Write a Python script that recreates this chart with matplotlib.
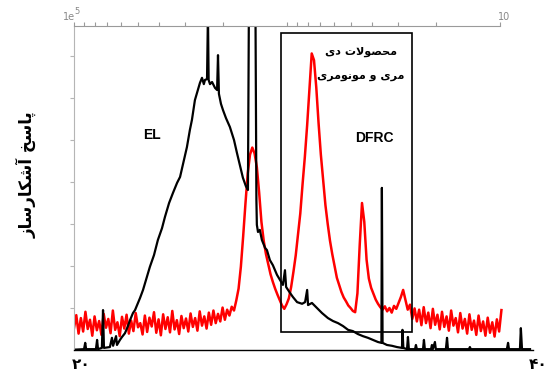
"""Chromatogram: EL vs DFRC products (detector response vs time)."""
import numpy as np
import matplotlib.pyplot as plt
from matplotlib.patches import Rectangle

# ---- data (time in min, response in arbitrary units) ----
# DFRC trace, sampled every 0.1 min from 19.7 min
red_t0, red_dt = 19.7, 0.1
red_y = [
    5.2, 8.3, 3.9, 7.6, 4.4, 9.1, 5.0, 7.2, 3.4, 8.0,
    4.7, 6.9, 3.6, 8.6, 5.3, 7.4, 4.0, 9.4, 4.8, 6.6,
    3.3, 7.9, 5.1, 8.4, 3.9, 7.0, 4.5, 8.8, 5.4, 6.4,
    3.7, 8.2, 4.3, 7.7, 5.6, 9.0, 4.1, 7.3, 3.5, 8.5,
    5.0, 7.8, 4.2, 9.3, 4.9, 7.1, 3.8, 8.1, 5.2, 7.5,
    4.4, 8.7, 5.5, 7.6, 4.6, 9.2, 5.8, 8.0, 5.1, 8.9,
    6.0, 9.4, 6.4, 8.6, 6.8, 10.1, 7.2, 9.6,
    # first peak
    8.2, 10.3, 9.4, 11.8, 14.6, 19.8, 27.0, 34.8, 42.0, 46.5,
    48.2, 46.8, 43.5, 37.5, 30.5, 26.0, 22.8, 20.4, 18.0, 16.2,
    14.6, 13.2, 11.9, 10.6,
    # dimer / monomer peak
    9.8, 10.9, 12.3, 15.0, 18.6, 22.5, 27.5, 32.5, 39.5, 46.0,
    53.5, 62.0, 70.6, 69.0, 62.5, 54.0, 46.5, 40.5, 34.5, 30.0,
    26.0, 22.8, 20.0, 17.2, 15.5, 13.8, 12.5, 11.6, 10.6, 10.0,
    9.3,
    # narrow peak
    9.0, 13.5, 25.0, 35.0, 30.5, 21.5, 17.0, 14.8, 13.4, 12.0,
    11.0, 10.2, 9.6,
    10.4, 9.2, 10.0, 8.9, 10.5, 9.8, 11.2, 12.6, 14.3, 12.0,
    9.6, 10.8, 7.4, 9.9, 6.8,
    # tail
    9.6, 5.9, 10.2, 6.4, 8.9, 5.2, 9.8, 6.0, 8.4, 4.9,
    9.1, 5.5, 8.0, 4.6, 9.4, 5.8, 7.6, 4.2, 8.8, 5.1,
    7.4, 3.9, 8.5, 4.8, 7.0, 3.6, 8.2, 4.5, 6.8, 3.4,
    7.7, 4.1, 6.6, 3.2, 7.3, 4.4, 9.5,
]

# EL trace, irregular points
black_t = [19.79, 20.14, 20.19, 20.23, 20.66, 20.71, 20.75, 20.92, 20.97, 21.01,
           21.27, 21.36, 21.41, 21.54, 21.58, 21.71, 21.80, 21.93, 22.06, 22.15,
           22.28, 22.37, 22.50, 22.59, 22.72, 22.85, 23.02, 23.20, 23.37, 23.55,
           23.68, 23.86, 24.03, 24.21, 24.34, 24.51, 24.64, 24.77, 24.86, 24.99,
           25.12, 25.21, 25.30, 25.38, 25.43, 25.52, 25.56, 25.59, 25.65, 25.74,
           25.87, 25.96, 26.00, 26.04, 26.13, 26.22, 26.35, 26.52, 26.70, 26.83,
           26.96, 27.09, 27.22, 27.31, 27.35, 27.40, 27.64, 27.68, 27.70, 27.75,
           27.83, 27.92, 28.06, 28.14, 28.27, 28.40, 28.58, 28.71, 28.84, 28.93,
           28.98, 29.15, 29.28, 29.46, 29.68, 29.81, 29.90, 29.94, 30.11, 30.33,
           30.55, 30.81, 31.03, 31.25, 31.47, 31.69, 31.90, 32.12, 32.34, 32.56,
           32.78, 33.00, 33.15, 33.17, 33.20, 33.39, 33.61, 33.83, 34.05, 34.07,
           34.11, 34.27, 34.31, 34.35, 34.62, 34.66, 34.70, 34.97, 35.01, 35.05,
           35.32, 35.36, 35.40, 35.49, 35.53, 35.97, 36.02, 36.06, 36.98, 37.02,
           37.06, 38.64, 38.69, 38.73, 39.21, 39.25, 39.30, 39.65]
black_y = [0.1, 0.2, 1.7, 0.2, 0.2, 2.4, 0.2, 0.5, 9.5, 0.5,
           0.7, 2.9, 1.0, 3.3, 1.2, 2.4, 3.1, 4.0, 5.7, 7.1,
           8.8, 9.5, 11.2, 12.4, 14.3, 16.7, 19.8, 22.6, 26.2, 29.0,
           31.7, 35.0, 37.4, 39.8, 41.2, 45.2, 48.3, 52.4, 54.8, 59.5,
           61.9, 63.6, 64.8, 63.3, 64.3, 64.5, 80.0, 64.3, 63.3, 63.8,
           62.4, 61.9, 70.2, 61.0, 58.6, 57.1, 55.2, 53.1, 50.0, 46.9,
           44.0, 41.0, 39.0, 38.1, 80.0, 80.0, 80.0, 35.7, 29.8, 28.1,
           28.6, 26.2, 24.3, 23.8, 21.4, 20.2, 17.9, 16.7, 15.5, 19.0,
           15.0, 13.6, 12.6, 11.4, 11.0, 11.4, 14.3, 10.7, 11.2, 10.0,
           8.8, 7.6, 6.9, 6.4, 5.7, 4.8, 4.5, 3.8, 3.3, 2.9,
           2.4, 1.9, 1.7, 38.6, 1.7, 1.2, 1.0, 0.7, 0.5, 4.8,
           0.5, 0.2, 3.1, 0.2, 0.2, 1.2, 0.2, 0.2, 2.4, 0.2,
           0.2, 1.2, 0.2, 1.9, 0.2, 0.2, 2.9, 0.2, 0.2, 0.7,
           0.2, 0.2, 1.7, 0.2, 0.2, 5.2, 0.2, 0.2]

# Persian labels
ylabel_fa = "پاسخ آشکارساز"
box_lines_fa = ["محصولات دی", "مری و مونومری"]
xtick_vals = [20, 40]
xtick_fa = ["۲۰", "۴۰"]


# ---- minimal Arabic-script shaping (matplotlib has no bidi/joining) ----
FORMS = {
    'ا': ('\uFE8D', '\uFE8E', None, None),
    'آ': ('\uFE81', '\uFE82', None, None),
    'پ': ('\uFB56', '\uFB57', '\uFB58', '\uFB59'),
    'ت': ('\uFE95', '\uFE96', '\uFE97', '\uFE98'),
    'ح': ('\uFEA1', '\uFEA2', '\uFEA3', '\uFEA4'),
    'خ': ('\uFEA5', '\uFEA6', '\uFEA7', '\uFEA8'),
    'د': ('\uFEA9', '\uFEAA', None, None),
    'ر': ('\uFEAD', '\uFEAE', None, None),
    'ز': ('\uFEAF', '\uFEB0', None, None),
    'س': ('\uFEB1', '\uFEB2', '\uFEB3', '\uFEB4'),
    'ش': ('\uFEB5', '\uFEB6', '\uFEB7', '\uFEB8'),
    'ص': ('\uFEB9', '\uFEBA', '\uFEBB', '\uFEBC'),
    'ک': ('\uFB8E', '\uFB8F', '\uFB90', '\uFB91'),
    'ل': ('\uFEDD', '\uFEDE', '\uFEDF', '\uFEE0'),
    'م': ('\uFEE1', '\uFEE2', '\uFEE3', '\uFEE4'),
    'ن': ('\uFEE5', '\uFEE6', '\uFEE7', '\uFEE8'),
    'و': ('\uFEED', '\uFEEE', None, None),
    'ی': ('\uFBFC', '\uFBFD', '\uFBFE', '\uFBFF'),
}
LAM_ALEF = {'ا': ('\uFEFB', '\uFEFC'), 'آ': ('\uFEF5', '\uFEF6')}


def shape(s):
    toks, i = [], 0
    while i < len(s):
        if s[i] == 'ل' and i + 1 < len(s) and s[i + 1] in LAM_ALEF:
            toks.append(('LA', s[i + 1])); i += 2
        else:
            toks.append((s[i], None)); i += 1
    dual = lambda t: t[0] in FORMS and FORMS[t[0]][2] is not None
    joins = lambda t: t[0] == 'LA' or t[0] in FORMS
    out = []
    for j, tok in enumerate(toks):
        prev_ok = j > 0 and dual(toks[j - 1]) and joins(tok)
        next_ok = j + 1 < len(toks) and dual(tok) and joins(toks[j + 1])
        if tok[0] == 'LA':
            out.append(LAM_ALEF[tok[1]][1 if prev_ok else 0])
        elif tok[0] in FORMS:
            iso, fin, ini, med = FORMS[tok[0]]
            out.append(med if prev_ok and next_ok else fin if prev_ok else ini if next_ok else iso)
        else:
            out.append(tok[0])
    return ''.join(reversed(out))


W, H = 552, 381
fig = plt.figure(figsize=(W / 100, H / 100), dpi=100)
fig.patch.set_facecolor('white')

def px(x, y):
    return x / W, 1 - y / H

# main axes: plot area 74..538 px wide, 26..350 px tall
ax = fig.add_axes([74 / W, 31 / H, 464 / W, 324 / H])
ax.set_xlim(19.7, 40.0)
ax.set_ylim(0, 77.14)

red_t = red_t0 + red_dt * np.arange(len(red_y))
ax.plot(red_t, red_y, color='#ff0000', lw=1.8, zorder=2)
ax.plot(black_t, black_y, color='black', lw=1.6, zorder=3)

ax.add_patch(Rectangle((28.755, 4.29), 5.73, 71.2, fill=False,
                       edgecolor='black', lw=1.2, zorder=4))

ax.spines['top'].set_visible(False)
ax.spines['right'].set_visible(False)
ax.spines['left'].set_color('#b5b5b5')
ax.spines['bottom'].set_bounds(19.7, 39.78)
ax.spines['bottom'].set_linewidth(1.0)
ax.set_yticks(np.arange(10, 71, 10))
ax.set_yticklabels([])
ax.tick_params(axis='y', length=3, color='#b5b5b5', width=0.8)
ax.set_xticks(xtick_vals)
ax.set_xticklabels(xtick_fa, fontsize=11, fontweight='bold', family='DejaVu Sans')
ax.tick_params(axis='x', length=0, pad=5)

ax.text(23.1, 51.2, "EL", fontsize=10, fontweight='bold', family='Liberation Sans',
        ha='center', va='center', zorder=5)
ax.text(32.82, 50.5, "DFRC", fontsize=10, fontweight='bold', family='Liberation Sans',
        ha='center', va='center', zorder=5)
ax.text(32.25, 71.0, shape(box_lines_fa[0]), fontsize=8, fontweight='bold',
        family='DejaVu Sans', ha='center', va='center', zorder=5)
ax.text(32.25, 65.3, shape(box_lines_fa[1]), fontsize=8, fontweight='bold',
        family='DejaVu Sans', ha='center', va='center', zorder=5)

# faint reversed log axis along the top
axt = fig.add_axes([74 / W, 31 / H, (500 - 74) / W, 324 / H])
axt.patch.set_visible(False)
axt.set_xscale('log')
axt.set_xlim(1000, 10)
for s in ['left', 'right', 'bottom']:
    axt.spines[s].set_visible(False)
axt.spines['top'].set_color('#9a9a9a')
axt.xaxis.set_ticks_position('top')
axt.tick_params(axis='x', which='both', direction='out', length=3, width=0.8,
                color='#9a9a9a', labeltop=False, labelbottom=False)
axt.set_yticks([])

fig.text(*px(63, 17), "1e", fontsize=7, color='#888888', ha='left', va='center')
fig.text(*px(74.5, 11), "5", fontsize=6, color='#888888', ha='left', va='center')
fig.text(*px(498, 17), "10", fontsize=7, color='#888888', ha='left', va='center')

fig.text(*px(26, 175), shape(ylabel_fa), rotation=90, fontsize=12, fontweight='bold',
         family='DejaVu Sans', ha='center', va='center')

fig.savefig("out.png", dpi=100)
